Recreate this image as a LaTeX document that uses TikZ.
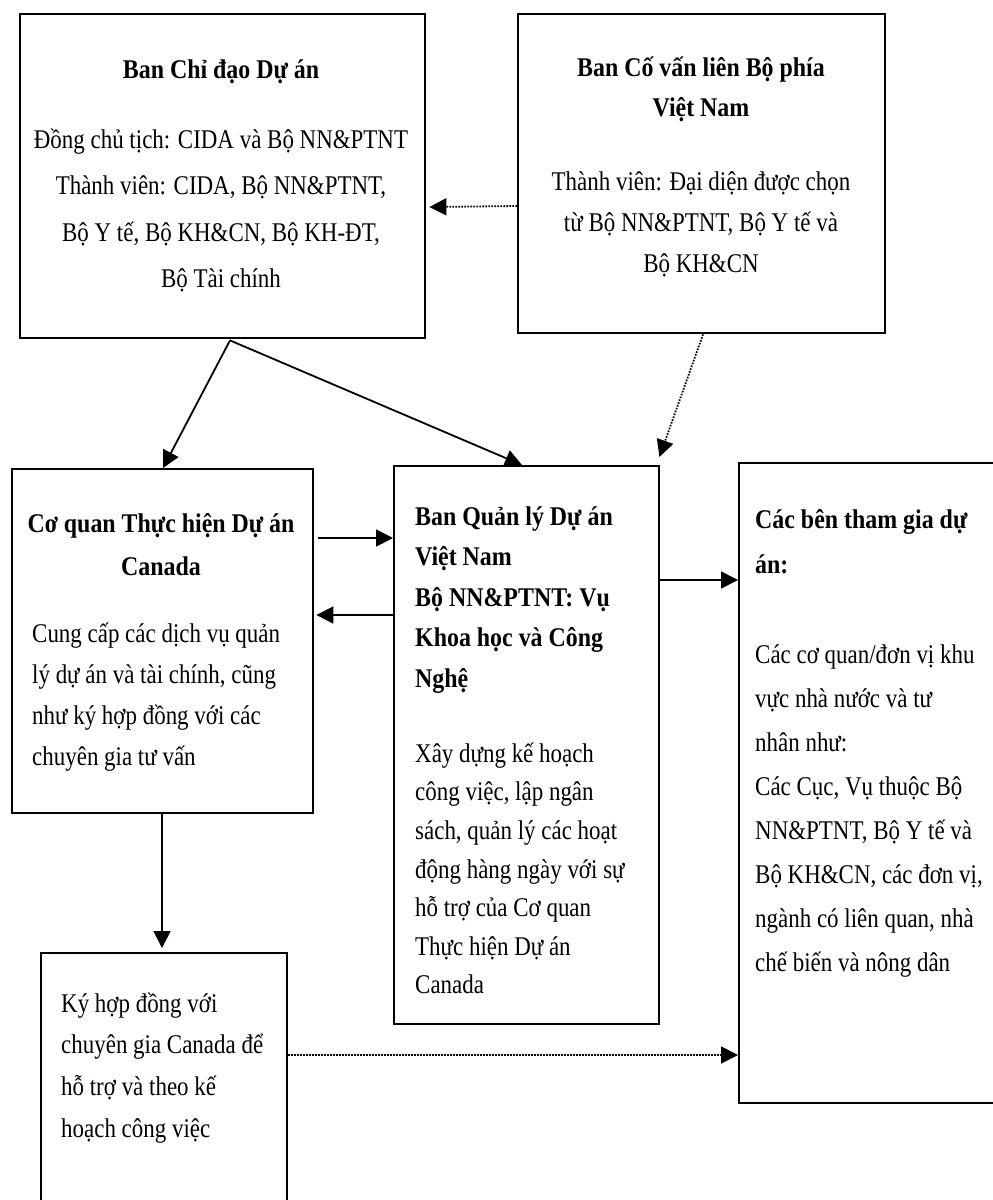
\documentclass[tikz,border=0pt]{standalone}
\usepackage{fontspec}
\setmainfont{Liberation Serif}[FakeStretch=0.85]
\newfontfamily\hdfont{Liberation Serif}[FakeStretch=0.885, UprightFont={* Bold}]
\usetikzlibrary{arrows.meta,calc}
\tikzset{
  boxn/.style={draw, line width=2.4pt, rectangle, inner sep=0pt, anchor=north west},
  txt/.style={inner sep=0pt, font=\fontsize{27}{#1}\selectfont},
  txtb/.style={inner sep=0pt, font=\hdfont\fontsize{27}{#1}\selectfont},
  conn/.style={line width=1.8pt, -{Triangle[length=17pt,width=17pt]}},
  dotconn/.style={line width=1.8pt, dash pattern=on 1.6pt off 1.4pt, -{Triangle[length=17pt,width=17pt]}},
}
\newcommand{\st}{\rule{0pt}{24pt}}
\begin{document}
\begin{tikzpicture}[x=1pt,y=-1pt]
\useasboundingbox (0,0) rectangle (993,1200);
% boxes
\node[boxn, minimum width=405pt, minimum height=324pt] (A) at (19,13) {};
\node[boxn, minimum width=367pt, minimum height=319pt] (B) at (517,13) {};
\node[boxn, minimum width=301pt, minimum height=344pt] (C) at (11,468) {};
\node[boxn, minimum width=265pt, minimum height=558pt] (D) at (393,465) {};
\node[boxn, minimum width=320pt, minimum height=640pt] (E) at (738,462) {};
\node[boxn, minimum width=246pt, minimum height=300pt] (F) at (40,952) {};
% texts
\node[txtb=46, anchor=north] (tA1) at (221,54) {\st Ban Chỉ đạo Dự án};
\node[txt=46.5, anchor=north, align=center] (tA2) at (221,124) {\st Đồng chủ tịch: CIDA và Bộ NN\&PTNT\\Thành viên: CIDA, Bộ NN\&PTNT,\\Bộ Y tế, Bộ KH\&CN, Bộ KH-ĐT,\\Bộ Tài chính};
\node[txtb=40, anchor=north, align=center] (tB1) at (701,52) {\st Ban Cố vấn liên Bộ phía\\Việt Nam};
\node[txt=41, anchor=north, align=center] (tB2) at (701,166) {\st Thành viên: Đại diện được chọn\\từ Bộ NN\&PTNT, Bộ Y tế và\\Bộ KH\&CN};
\node[txtb=43, anchor=north, align=center] (tC1) at (161,508) {\st Cơ quan Thực hiện Dự án\\Canada};
\node[txt=41, anchor=north west, align=left] (tC2) at (32,618) {\st Cung cấp các dịch vụ quản\\lý dự án và tài chính, cũng\\như ký hợp đồng với các\\chuyên gia tư vấn};
\node[txtb=40.5, anchor=north west, align=left] (tD1) at (415,501) {\st Ban Quản lý Dự án\\Việt Nam\\Bộ NN\&PTNT: Vụ\\Khoa học và Công\\Nghệ};
\node[txt=38.6, anchor=north west, align=left] (tD2) at (415,738) {\st Xây dựng kế hoạch\\công việc, lập ngân\\sách, quản lý các hoạt\\động hàng ngày với sự\\hỗ trợ của Cơ quan\\Thực hiện Dự án\\Canada};
\node[txtb=45, anchor=north west, align=left] (tE1) at (755,504) {\st Các bên tham gia dự\\án:};
\node[txt=44, anchor=north west, align=left] (tE2) at (755,639) {\st Các cơ quan/đơn vị khu\\vực nhà nước và tư\\nhân như:\\Các Cục, Vụ thuộc Bộ\\NN\&PTNT, Bộ Y tế và\\Bộ KH\&CN, các đơn vị,\\ngành có liên quan, nhà\\chế biến và nông dân};
\node[txt=41.7, anchor=north west, align=left] (tF) at (61,988) {\st Ký hợp đồng với\\chuyên gia Canada để\\hỗ trợ và theo kế\\hoạch công việc};
% connectors
\draw[dotconn] ($(B.north west)+(0,193)$) -- ($(A.north east)+(3,194)$);
\draw[conn] ($(A.south west)+(211,1)$) -- ($(C.north west)+(152,0)$);
\draw[conn] ($(A.south west)+(211,1)$) -- ($(D.north west)+(129,0)$);
\draw[dotconn] ($(B.south west)+(186,0)$) -- ($(D.north east)+(-1,-8)$);
\draw[conn] ($(C.north east)+(4,70)$) -- ($(D.north west)+(0,73)$);
\draw[conn] ($(D.north west)+(0,150)$) -- ($(C.north east)+(2,147)$);
\draw[conn] ($(D.north east)+(0,115)$) -- ($(E.north west)+(0,118)$);
\draw[conn] ($(C.south west)+(151,0)$) -- ($(F.north west)+(122,-4)$);
\draw[dotconn] ($(F.north east)+(0,103)$) -- ($(E.north west)+(0,593)$);
\end{tikzpicture}
\end{document}
